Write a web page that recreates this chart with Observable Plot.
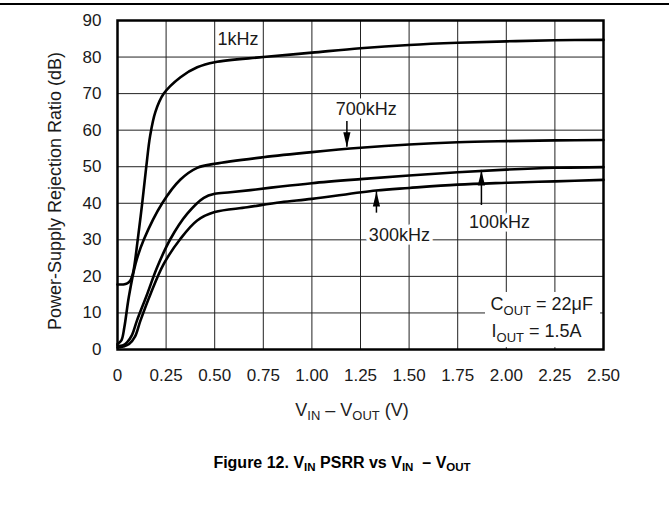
<!DOCTYPE html>
<html><head><meta charset="utf-8">
<script src="https://cdn.jsdelivr.net/npm/d3@7"></script>
<script src="https://cdn.jsdelivr.net/npm/@observablehq/plot@0.6"></script>
<style>
body{margin:0;background:#fff;font-family:"Liberation Sans",Arial,Helvetica,sans-serif;}
#page{position:relative;width:669px;height:508px;overflow:hidden;background:#fff;}
#rule{position:absolute;left:0;top:3px;width:669px;height:2px;background:#000;}
#chart{position:absolute;left:0;top:0;}
#xlabel{position:absolute;top:400px;left:352px;transform:translateX(-50%);white-space:nowrap;font-size:18px;color:#222;}
#title{position:absolute;top:454px;left:342px;transform:translateX(-50%);white-space:nowrap;font-size:16px;font-weight:bold;color:#000;}
sub{font-size:0.72em;vertical-align:-0.28em;line-height:0;}
</style></head>
<body>
<div id="page">
  <div id="chart"></div>
  <div id="rule"></div>
  <div id="xlabel">V<sub>IN</sub> – V<sub>OUT</sub> (V)</div>
  <div id="title">Figure 12. V<sub>IN</sub> PSRR vs V<sub>IN</sub>&nbsp; – V<sub>OUT</sub></div>
</div>
<script>
// ---- data ----
const xTicks = [0, 0.25, 0.5, 0.75, 1.0, 1.25, 1.5, 1.75, 2.0, 2.25, 2.5];
const xTickLabels = ["0", "0.25", "0.50", "0.75", "1.00", "1.25", "1.50", "1.75", "2.00", "2.25", "2.50"];
const yTicks = [0, 10, 20, 30, 40, 50, 60, 70, 80, 90];

const x1k = [0, 0.03, 0.05, 0.065, 0.08, 0.104, 0.127, 0.148, 0.168, 0.195, 0.238, 0.324, 0.41, 0.5, 0.75, 1.0, 1.25, 1.5, 1.75, 2.0, 2.25, 2.5];
const y1k = [17.8, 17.8, 18.1, 18.8, 21, 30, 40, 50, 58.5, 65, 70, 74.5, 77.2, 78.6, 80.0, 81.2, 82.4, 83.3, 83.9, 84.3, 84.6, 84.7];

const x700k = [0, 0.02, 0.035, 0.058, 0.093, 0.135, 0.23, 0.324, 0.41, 0.5, 0.75, 1.0, 1.25, 1.5, 1.75, 2.0, 2.25, 2.5];
const y700k = [1.5, 2.5, 6, 14.3, 23.5, 30, 40, 46.5, 49.7, 50.8, 52.6, 54.0, 55.2, 56.1, 56.7, 57.0, 57.2, 57.3];

const x100k = [0, 0.03, 0.05, 0.075, 0.1, 0.153, 0.204, 0.273, 0.358, 0.444, 0.5, 0.58, 0.684, 0.84, 1.0, 1.25, 1.5, 1.75, 2.0, 2.25, 2.5];
const y100k = [1.0, 1.2, 2.0, 4.0, 7.9, 15.2, 22.5, 30.3, 37.1, 41.5, 42.6, 43.0, 43.6, 44.6, 45.5, 46.6, 47.6, 48.5, 49.2, 49.7, 49.9];

const x300k = [0, 0.03, 0.06, 0.09, 0.118, 0.17, 0.238, 0.324, 0.41, 0.5, 0.667, 0.84, 1.0, 1.33, 1.5, 1.75, 2.0, 2.25, 2.5];
const y300k = [0.5, 0.8, 1.5, 3.5, 7.9, 15.2, 23.4, 30.3, 35.3, 37.6, 38.9, 40.3, 41.2, 43.5, 44.2, 45.1, 45.6, 46.0, 46.4];

const seriesNames = ["1kHz", "700kHz", "100kHz", "300kHz"];

// annotation labels (data units)
const labelText = ["1kHz", "700kHz", "300kHz", "100kHz"];
const labelX = [0.514, 1.28, 1.45, 1.965];
const labelY = [84.8, 65.6, 31.2, 34.8];
const labelHalo = [false, true, true, true];

const arrowX = [1.18, 1.332, 1.872];
const arrowTip = [55.3, 43.2, 49.0];
const arrowTail = [62.4, 37.3, 39.4];

const noteText = ["C_{OUT} = 22μF", "I_{OUT} = 1.5A"];
const noteX = [1.919, 1.924];
const noteY = [12.3, 4.9];
const noteBox = [{x1: 1.893, x2: 2.485, y1: 0.5, y2: 15.6}];

// ---- build tables ----
const rows = [];
[[x1k, y1k], [x700k, y700k], [x100k, y100k], [x300k, y300k]].forEach(([xs, ys], i) => {
  xs.forEach((x, j) => rows.push({series: seriesNames[i], x, y: ys[j]}));
});
const labels = labelText.map((t, i) => ({text: t, x: labelX[i], y: labelY[i], halo: labelHalo[i]}));
const arrows = arrowX.map((x, i) => ({x, tip: arrowTip[i], tail: arrowTail[i], rot: arrowTail[i] > arrowTip[i] ? 180 : 0}));
const notes = noteText.map((t, i) => ({text: t, x: noteX[i], y: noteY[i]}));

// arrowhead symbol: tip at origin, body below (pointing up)
const headSym = {draw(ctx) { ctx.moveTo(0, 0); ctx.lineTo(3.6, 15); ctx.lineTo(-3.6, 15); ctx.closePath(); }};

const fmt = d => xTickLabels[xTicks.indexOf(d)];
const ink = "#1a1a1a";

const plot = Plot.plot({
  width: 669, height: 395,
  marginLeft: 117, marginRight: 66, marginTop: 20, marginBottom: 46,
  style: {fontFamily: "'Liberation Sans', Arial, sans-serif", fontSize: "17px", color: ink, background: "transparent", overflow: "visible"},
  x: {domain: [0, 2.5]},
  y: {domain: [0, 90]},
  marks: [
    Plot.gridX(xTicks, {stroke: "#222", strokeOpacity: 1, strokeWidth: 1}),
    Plot.gridY(yTicks, {stroke: "#222", strokeOpacity: 1, strokeWidth: 1}),
    Plot.rect(noteBox, {x1: "x1", x2: "x2", y1: "y1", y2: "y2", fill: "white"}),
    Plot.line(rows, {x: "x", y: "y", z: "series", curve: "catmull-rom", stroke: "#000", strokeWidth: 2.6}),
    Plot.text(labels.filter(d => d.halo), {x: "x", y: "y", text: "text", fontSize: 18, fill: ink, stroke: "white", strokeWidth: 7}),
    Plot.text(labels.filter(d => !d.halo), {x: "x", y: "y", text: "text", fontSize: 18, fill: ink, textAnchor: "start"}),
    Plot.ruleX(arrows, {x: "x", y1: "tail", y2: "tip", stroke: "#000", strokeWidth: 1.5}),
    Plot.dot(arrows, {x: "x", y: "tip", symbol: headSym, rotate: "rot", fill: "#000", stroke: "none"}),
    Plot.text(notes, {x: "x", y: "y", text: "text", fontSize: 18, fill: ink, textAnchor: "start"}),
    Plot.frame({stroke: "#000", strokeWidth: 2.5}),
    Plot.axisX({ticks: xTicks, tickSize: 0, tickPadding: 19, tickFormat: fmt, label: null, fontSize: 17}),
    Plot.axisY({ticks: yTicks, tickSize: 0, tickPadding: 16, label: null, fontSize: 17}),
    Plot.text(["Power-Supply Rejection Ratio (dB)"], {frameAnchor: "left", textAnchor: "middle", dx: -62, dy: 6, rotate: -90, fontSize: 18, fill: ink})
  ]
});

// subscripts in SVG text: "X_{SUB} rest"
d3.select(plot).selectAll("text").each(function() {
  const s = this.textContent;
  if (!s.includes("_{")) return;
  const el = d3.select(this);
  el.text(null);
  const parts = s.split(/_\{([^}]*)\}/);
  let shifted = false;
  parts.forEach((p, i) => {
    if (!p) return;
    const t = el.append("tspan").text(p);
    if (i % 2 === 1) { t.attr("font-size", "13px").attr("dy", "5"); shifted = true; }
    else if (shifted) { t.attr("dy", "-5"); shifted = false; }
  });
});

document.getElementById("chart").appendChild(plot);
</script>
</body></html>
